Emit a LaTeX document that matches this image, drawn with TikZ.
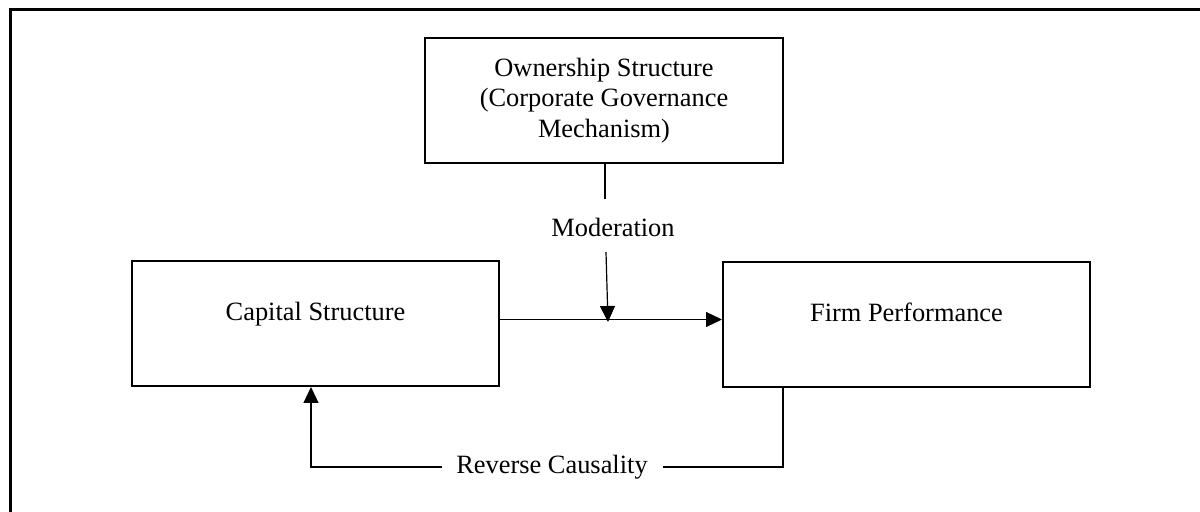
\documentclass[tikz,border=0pt]{standalone}
\usepackage{fontspec}
\setmainfont{Liberation Serif}
\usetikzlibrary{arrows.meta,calc}
\begin{document}
\begin{tikzpicture}[x=0.5pt,y=-0.5pt,
  box/.style={draw,line width=1pt,inner sep=0pt,font=\fontsize{13.2}{15.4}\selectfont},
  onebox/.style={box,minimum width=183.5pt,minimum height=62.5pt,text height=9pt,text depth=11.5pt},
  conn/.style={line width=0.6pt},
  arr/.style={conn,-{Triangle[length=8pt,width=7.5pt]}},
  lbl/.style={inner sep=0pt,font=\fontsize{13.2}{15.4}\selectfont}]
\useasboundingbox (0,0) rectangle (1200,512);
% outer frame (only top and left edges lie within the picture)
\draw[line width=1.5pt,line join=miter] (10.5,512) -- (10.5,10) -- (1200,10);
% boxes
\node[box,minimum width=179pt,minimum height=62.5pt,align=center] (own) at (604,100.5)
  {Ownership Structure\\(Corporate Governance\\Mechanism)};
\node[onebox] (cap) at (315.5,323.5) {Capital Structure};
\node[onebox] (firm) at (906.5,324.5) {Firm Performance};
% moderation
\node[lbl] (mod) at (613,227) {Moderation};
\coordinate (m1) at (605,199);
\coordinate (m2) at (606,252);
\coordinate (m3) at (608,322);
\draw[conn] (own.south -| m1) -- (m1);
\draw[arr] (m2) -- (m3);
% main path
\coordinate (h1) at (499,319.5);
\draw[arr] (h1) -- (h1 -| firm.west);
% reverse causality
\node[lbl] (rev) at (552,467) {Reverse Causality};
\coordinate (r1) at (783,467);
\coordinate (r2) at (663,467);
\coordinate (r3) at (442,467);
\coordinate (r4) at (311,467);
\draw[conn] (firm.south -| r1) -- (r1) -- (r2);
\draw[arr] (r3) -- (r4) -- (r4 |- cap.south);
\end{tikzpicture}
\end{document}
